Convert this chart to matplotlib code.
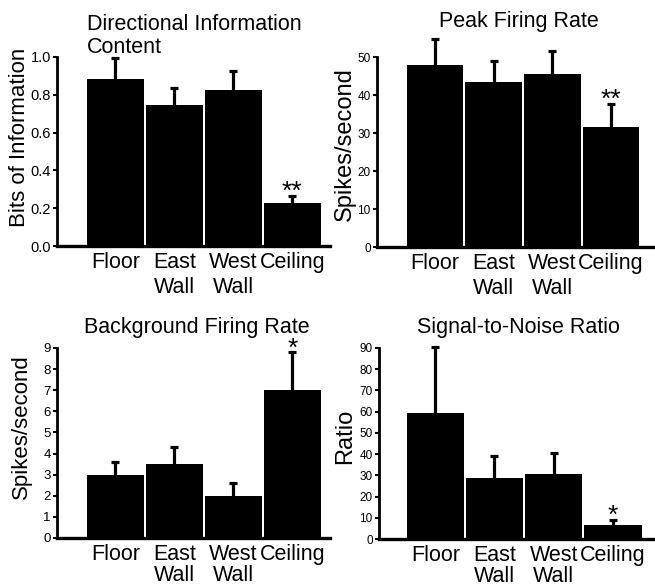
import matplotlib
matplotlib.use("Agg")
import matplotlib.pyplot as plt

plt.rcParams['font.family'] = ['Liberation Sans', 'DejaVu Sans']

categories = ["Floor", "East\nWall", "West\nWall", "Ceiling"]

info_mean = [0.885, 0.745, 0.825, 0.225]
info_err = [0.11, 0.09, 0.10, 0.04]
info_sig = ["", "", "", "**"]

peak_mean = [48.0, 43.3, 45.4, 31.5]
peak_err = [6.8, 5.6, 6.1, 6.2]
peak_sig = ["", "", "", "**"]

bg_mean = [3.0, 3.5, 2.0, 7.0]
bg_err = [0.6, 0.8, 0.6, 1.8]
bg_sig = ["", "", "", "*"]

snr_mean = [59.6, 28.8, 30.7, 6.5]
snr_err = [31.0, 10.4, 9.7, 2.5]
snr_sig = ["", "", "", "*"]

W, H = 655, 587
fig = plt.figure(figsize=(W / 100, H / 100), dpi=100)


def rect(l, r, t, b):
    return [l / W, 1 - b / H, (r - l) / W, (b - t) / H]


def panel(box, xlim, means, errs, sigs, ylim, yticks, yticklabels, tick_fs, lsp, xpad):
    ax = fig.add_axes(rect(*box))
    x = list(range(len(categories)))
    tops = [m + e for m, e in zip(means, errs)]
    ax.bar(x, means, width=0.965, color='black', edgecolor='none', zorder=2)
    ax.vlines(x, means, tops, colors='black', linewidth=2.3, zorder=1, clip_on=False)
    ax.plot(x, tops, linestyle='none', marker='_', markersize=6, markeredgewidth=2.3,
            color='black', zorder=1, clip_on=False)
    for xi, t, s in zip(x, tops, sigs):
        if s:
            ax.annotate(s, (xi, t), xytext=(0, -6), textcoords='offset points',
                        ha='center', va='bottom', fontsize=19, annotation_clip=False)
    ax.set_xlim(*xlim)
    ax.set_ylim(*ylim)
    ax.set_yticks(yticks)
    ax.set_yticklabels(yticklabels, fontsize=tick_fs)
    ax.set_xticks(x)
    ax.set_xticklabels(categories, fontsize=15.5, linespacing=lsp)
    ax.tick_params(axis='x', length=0, pad=xpad)
    ax.tick_params(axis='y', direction='out', length=3, width=1.5, pad=1.5)
    for s in ('top', 'right'):
        ax.spines[s].set_visible(False)
    ax.spines['left'].set_linewidth(2.0)
    ax.spines['bottom'].set_linewidth(2.4)
    ax.set_facecolor('none')
    return ax


panel((57, 330, 57, 246), (-0.99, 3.64), info_mean, info_err, info_sig, (0, 1.0),
      [0, 0.2, 0.4, 0.6, 0.8, 1.0], ["0.0", "0.2", "0.4", "0.6", "0.8", "1.0"], 10.5, 1.25, 4)
panel((377, 655, 57, 247), (-0.99, 3.75), peak_mean, peak_err, peak_sig, (0, 50),
      [0, 10, 20, 30, 40, 50], ["0", "10", "20", "30", "40", "50"], 8.5, 1.25, 4)
panel((57, 330, 348, 538), (-0.99, 3.64), bg_mean, bg_err, bg_sig, (0, 9),
      list(range(10)), [str(i) for i in range(10)], 9.5, 1.05, 4)
panel((379, 655, 348, 539), (-0.95, 3.71), snr_mean, snr_err, snr_sig, (0, 90),
      list(range(0, 91, 10)), [str(i) for i in range(0, 91, 10)], 8.5, 1.05, 4)

# titles
fig.text(87 / W, 1 - 53 / H, "Directional Information\nContent", ha='left', va='baseline',
         fontsize=15.5, linespacing=1.14)
fig.text(519 / W, 1 - 27 / H, "Peak Firing Rate", ha='center', va='baseline', fontsize=15.5)
fig.text(197 / W, 1 - 333 / H, "Background Firing Rate", ha='center', va='baseline', fontsize=15.5)
fig.text(518 / W, 1 - 333 / H, "Signal-to-Noise Ratio", ha='center', va='baseline', fontsize=15.5)

# y labels
fig.text(20 / W, 1 - 137 / H, "Bits of Information", rotation=90, ha='center', va='center', fontsize=16)
fig.text(345 / W, 1 - 144 / H, "Spikes/second", rotation=90, ha='center', va='center', fontsize=17)
fig.text(21 / W, 1 - 427 / H, "Spikes/second", rotation=90, ha='center', va='center', fontsize=16)
fig.text(345 / W, 1 - 436 / H, "Ratio", rotation=90, ha='center', va='center', fontsize=17)

fig.savefig("out.png", dpi=100)
